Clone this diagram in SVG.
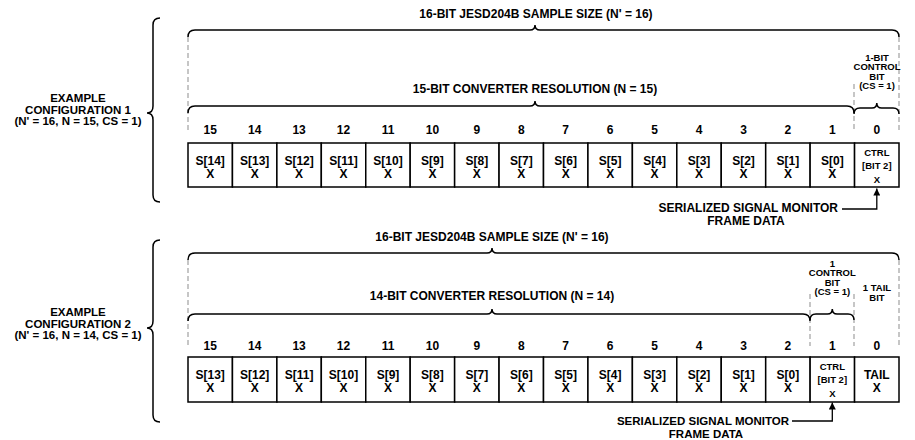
<svg xmlns="http://www.w3.org/2000/svg" width="915" height="440" viewBox="0 0 915 440">
<style>
.t{font-family:"Liberation Sans",Arial,Helvetica,sans-serif;font-weight:bold;fill:#000;text-anchor:middle}
.f11{font-size:12px}
.fl{font-size:11.5px}
.f10{font-size:9.5px}
.f9{font-size:9.5px}
.box{fill:#fff;stroke:#000;stroke-width:1.5}
.br{fill:none;stroke:#000;stroke-width:1.5}
.dash{fill:none;stroke:#a8a8a8;stroke-width:1.3;stroke-dasharray:5 3}
.ln{fill:none;stroke:#000;stroke-width:1.3}
</style>
<defs>
<marker id="ah" viewBox="0 0 10 10" refX="10" refY="5" markerWidth="10" markerHeight="7" markerUnits="userSpaceOnUse" orient="auto">
<path d="M0,0 L10,5 L0,10 z" fill="#000"/>
</marker>
</defs>
<rect width="915" height="440" fill="#fff"/>

<!-- ===== CONFIG 1 ===== -->
<g id="label1">
<text class="t fl" x="78" y="102">EXAMPLE</text>
<text class="t fl" x="78" y="113.5">CONFIGURATION 1</text>
<text class="t fl" x="78" y="125">(N' = 16, N = 15, CS = 1)</text>
<path class="br" d="M160,18 Q153,18 153,25 L153,106 Q153,113 147,113 Q153,113 153,120 L153,195 Q153,202 160,202"/>
</g>
<g id="dashes1">
<path class="dash" d="M188,37 V130 M899,37 V130 M854,84 V130"/>
</g>
<g id="braces1">
<path class="br" d="M188,37 Q188,30 195,30 L530,30 Q535,30 535,25 Q535,30 540,30 L892,30 Q899,30 899,37"/>
<text class="t f11" x="536" y="18">16-BIT JESD204B SAMPLE SIZE (N' = 16)</text>
<path class="br" d="M188,113 Q188,106 195,106 L530,106 Q535,106 535,101 Q535,106 540,106 L847,106 Q854,106 854,113"/>
<text class="t f11" x="535" y="93">15-BIT CONVERTER RESOLUTION (N = 15)</text>
<path class="br" d="M854,114 Q854,108 860,108 L872,108 Q876.8,108 876.8,103 Q876.8,108 881.6,108 L893,108 Q899,108 899,114"/>
<text class="t f10" x="877" y="60.5">1-BIT</text>
<text class="t f10" x="877" y="70">CONTROL</text>
<text class="t f10" x="877" y="79.5">BIT</text>
<text class="t f10" x="877" y="89">(CS = 1)</text>
</g>
<g id="nums1">
<text class="t f11" x="210.2" y="134">15</text>
<text class="t f11" x="254.7" y="134">14</text>
<text class="t f11" x="299.1" y="134">13</text>
<text class="t f11" x="343.5" y="134">12</text>
<text class="t f11" x="388.0" y="134">11</text>
<text class="t f11" x="432.4" y="134">10</text>
<text class="t f11" x="476.8" y="134">9</text>
<text class="t f11" x="521.3" y="134">8</text>
<text class="t f11" x="565.7" y="134">7</text>
<text class="t f11" x="610.2" y="134">6</text>
<text class="t f11" x="654.6" y="134">5</text>
<text class="t f11" x="699.0" y="134">4</text>
<text class="t f11" x="743.5" y="134">3</text>
<text class="t f11" x="787.9" y="134">2</text>
<text class="t f11" x="832.3" y="134">1</text>
<text class="t f11" x="876.8" y="134">0</text>
</g>
<g id="c1b15"><rect class="box" x="188" y="143" width="44.44" height="44"/><text class="t f11" x="210.2" y="165">S[14]</text><text class="t f11" x="210.2" y="178">X</text></g>
<g id="c1b14"><rect class="box" x="232.44" y="143" width="44.44" height="44"/><text class="t f11" x="254.7" y="165">S[13]</text><text class="t f11" x="254.7" y="178">X</text></g>
<g id="c1b13"><rect class="box" x="276.88" y="143" width="44.44" height="44"/><text class="t f11" x="299.1" y="165">S[12]</text><text class="t f11" x="299.1" y="178">X</text></g>
<g id="c1b12"><rect class="box" x="321.31" y="143" width="44.44" height="44"/><text class="t f11" x="343.5" y="165">S[11]</text><text class="t f11" x="343.5" y="178">X</text></g>
<g id="c1b11"><rect class="box" x="365.75" y="143" width="44.44" height="44"/><text class="t f11" x="388.0" y="165">S[10]</text><text class="t f11" x="388.0" y="178">X</text></g>
<g id="c1b10"><rect class="box" x="410.19" y="143" width="44.44" height="44"/><text class="t f11" x="432.4" y="165">S[9]</text><text class="t f11" x="432.4" y="178">X</text></g>
<g id="c1b9"><rect class="box" x="454.63" y="143" width="44.44" height="44"/><text class="t f11" x="476.8" y="165">S[8]</text><text class="t f11" x="476.8" y="178">X</text></g>
<g id="c1b8"><rect class="box" x="499.06" y="143" width="44.44" height="44"/><text class="t f11" x="521.3" y="165">S[7]</text><text class="t f11" x="521.3" y="178">X</text></g>
<g id="c1b7"><rect class="box" x="543.5" y="143" width="44.44" height="44"/><text class="t f11" x="565.7" y="165">S[6]</text><text class="t f11" x="565.7" y="178">X</text></g>
<g id="c1b6"><rect class="box" x="587.94" y="143" width="44.44" height="44"/><text class="t f11" x="610.2" y="165">S[5]</text><text class="t f11" x="610.2" y="178">X</text></g>
<g id="c1b5"><rect class="box" x="632.38" y="143" width="44.44" height="44"/><text class="t f11" x="654.6" y="165">S[4]</text><text class="t f11" x="654.6" y="178">X</text></g>
<g id="c1b4"><rect class="box" x="676.81" y="143" width="44.44" height="44"/><text class="t f11" x="699.0" y="165">S[3]</text><text class="t f11" x="699.0" y="178">X</text></g>
<g id="c1b3"><rect class="box" x="721.25" y="143" width="44.44" height="44"/><text class="t f11" x="743.5" y="165">S[2]</text><text class="t f11" x="743.5" y="178">X</text></g>
<g id="c1b2"><rect class="box" x="765.69" y="143" width="44.44" height="44"/><text class="t f11" x="787.9" y="165">S[1]</text><text class="t f11" x="787.9" y="178">X</text></g>
<g id="c1b1"><rect class="box" x="810.13" y="143" width="44.44" height="44"/><text class="t f11" x="832.3" y="165">S[0]</text><text class="t f11" x="832.3" y="178">X</text></g>
<g id="c1b0"><rect class="box" x="854.56" y="143" width="44.44" height="44"/><text class="t f9" x="876.8" y="156">CTRL</text><text class="t f9" x="876.8" y="169">[BIT 2]</text><text class="t f9" x="876.8" y="183">X</text></g>
<g id="monitor1">
<text class="t f11" x="838" y="212" style="text-anchor:end">SERIALIZED SIGNAL MONITOR</text>
<text class="t f11" x="746" y="225">FRAME DATA</text>
</g>

<!-- ===== CONFIG 2 ===== -->
<g id="label2">
<text class="t fl" x="78" y="316">EXAMPLE</text>
<text class="t fl" x="78" y="327.5">CONFIGURATION 2</text>
<text class="t fl" x="78" y="339">(N' = 16, N = 14, CS = 1)</text>
<path class="br" d="M160,240 Q153,240 153,247 L153,321 Q153,328 147,328 Q153,328 153,335 L153,415 Q153,422 160,422"/>
</g>
<g id="dashes2">
<path class="dash" d="M188,260 V346 M899,260 V346 M810,294 V346 M854,294 V346"/>
</g>
<g id="braces2">
<path class="br" d="M188,260 Q188,253 195,253 L487,253 Q492,253 492,248 Q492,253 497,253 L892,253 Q899,253 899,260"/>
<text class="t f11" x="492" y="241">16-BIT JESD204B SAMPLE SIZE (N' = 16)</text>
<path class="br" d="M188,321 Q188,314 195,314 L487,314 Q492,314 492,309 Q492,314 497,314 L803,314 Q810,314 810,321"/>
<text class="t f11" x="492" y="300">14-BIT CONVERTER RESOLUTION (N = 14)</text>
<path class="br" d="M810,320 Q810,314 816,314 L827.5,314 Q832.3,314 832.3,309 Q832.3,314 837.1,314 L848,314 Q854,314 854,320"/>
<text class="t f10" x="832.3" y="266.5">1</text>
<text class="t f10" x="832.3" y="276">CONTROL</text>
<text class="t f10" x="832.3" y="285.5">BIT</text>
<text class="t f10" x="832.3" y="295">(CS = 1)</text>
<text class="t f10" x="877" y="291">1 TAIL</text>
<text class="t f10" x="877" y="300.5">BIT</text>
</g>
<g id="nums2">
<text class="t f11" x="210.2" y="350">15</text>
<text class="t f11" x="254.7" y="350">14</text>
<text class="t f11" x="299.1" y="350">13</text>
<text class="t f11" x="343.5" y="350">12</text>
<text class="t f11" x="388.0" y="350">11</text>
<text class="t f11" x="432.4" y="350">10</text>
<text class="t f11" x="476.8" y="350">9</text>
<text class="t f11" x="521.3" y="350">8</text>
<text class="t f11" x="565.7" y="350">7</text>
<text class="t f11" x="610.2" y="350">6</text>
<text class="t f11" x="654.6" y="350">5</text>
<text class="t f11" x="699.0" y="350">4</text>
<text class="t f11" x="743.5" y="350">3</text>
<text class="t f11" x="787.9" y="350">2</text>
<text class="t f11" x="832.3" y="350">1</text>
<text class="t f11" x="876.8" y="350">0</text>
</g>
<g id="c2b15"><rect class="box" x="188" y="357" width="44.44" height="45"/><text class="t f11" x="210.2" y="379">S[13]</text><text class="t f11" x="210.2" y="392">X</text></g>
<g id="c2b14"><rect class="box" x="232.44" y="357" width="44.44" height="45"/><text class="t f11" x="254.7" y="379">S[12]</text><text class="t f11" x="254.7" y="392">X</text></g>
<g id="c2b13"><rect class="box" x="276.88" y="357" width="44.44" height="45"/><text class="t f11" x="299.1" y="379">S[11]</text><text class="t f11" x="299.1" y="392">X</text></g>
<g id="c2b12"><rect class="box" x="321.31" y="357" width="44.44" height="45"/><text class="t f11" x="343.5" y="379">S[10]</text><text class="t f11" x="343.5" y="392">X</text></g>
<g id="c2b11"><rect class="box" x="365.75" y="357" width="44.44" height="45"/><text class="t f11" x="388.0" y="379">S[9]</text><text class="t f11" x="388.0" y="392">X</text></g>
<g id="c2b10"><rect class="box" x="410.19" y="357" width="44.44" height="45"/><text class="t f11" x="432.4" y="379">S[8]</text><text class="t f11" x="432.4" y="392">X</text></g>
<g id="c2b9"><rect class="box" x="454.63" y="357" width="44.44" height="45"/><text class="t f11" x="476.8" y="379">S[7]</text><text class="t f11" x="476.8" y="392">X</text></g>
<g id="c2b8"><rect class="box" x="499.06" y="357" width="44.44" height="45"/><text class="t f11" x="521.3" y="379">S[6]</text><text class="t f11" x="521.3" y="392">X</text></g>
<g id="c2b7"><rect class="box" x="543.5" y="357" width="44.44" height="45"/><text class="t f11" x="565.7" y="379">S[5]</text><text class="t f11" x="565.7" y="392">X</text></g>
<g id="c2b6"><rect class="box" x="587.94" y="357" width="44.44" height="45"/><text class="t f11" x="610.2" y="379">S[4]</text><text class="t f11" x="610.2" y="392">X</text></g>
<g id="c2b5"><rect class="box" x="632.38" y="357" width="44.44" height="45"/><text class="t f11" x="654.6" y="379">S[3]</text><text class="t f11" x="654.6" y="392">X</text></g>
<g id="c2b4"><rect class="box" x="676.81" y="357" width="44.44" height="45"/><text class="t f11" x="699.0" y="379">S[2]</text><text class="t f11" x="699.0" y="392">X</text></g>
<g id="c2b3"><rect class="box" x="721.25" y="357" width="44.44" height="45"/><text class="t f11" x="743.5" y="379">S[1]</text><text class="t f11" x="743.5" y="392">X</text></g>
<g id="c2b2"><rect class="box" x="765.69" y="357" width="44.44" height="45"/><text class="t f11" x="787.9" y="379">S[0]</text><text class="t f11" x="787.9" y="392">X</text></g>
<g id="c2b1"><rect class="box" x="810.13" y="357" width="44.44" height="45"/><text class="t f9" x="832.3" y="370">CTRL</text><text class="t f9" x="832.3" y="383">[BIT 2]</text><text class="t f9" x="832.3" y="397">X</text></g>
<g id="c2b0"><rect class="box" x="854.56" y="357" width="44.44" height="45"/><text class="t f11" x="876.8" y="379">TAIL</text><text class="t f11" x="876.8" y="392">X</text></g>
<g id="monitor2">
<text class="t fl" x="789" y="424.5" style="text-anchor:end">SERIALIZED SIGNAL MONITOR</text>
<text class="t fl" x="706" y="438">FRAME DATA</text>
</g>

<g id="connectors">
<path class="ln" d="M842,209 H876.8 V188.5" marker-end="url(#ah)"/>
<path class="ln" d="M792,421 H832.3 V402.5" marker-end="url(#ah)"/>
</g>
</svg>
